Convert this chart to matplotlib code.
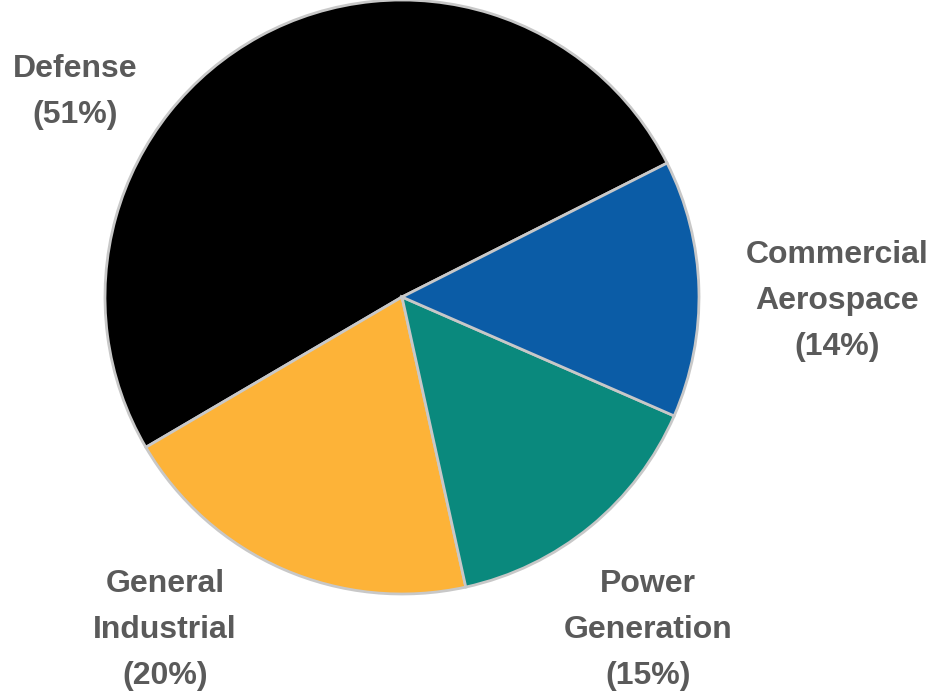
import matplotlib.pyplot as plt

# data
labels = ['Defense\n(51%)', 'General\nIndustrial\n(20%)', 'Power\nGeneration\n(15%)', 'Commercial\nAerospace\n(14%)']
shares = [51, 20, 15, 14]
colors = ['#000000', '#FDB338', '#0A897D', '#0B5CA6']

# label centres in pixels (x, y from top)
label_pos = [(75, 92), (165, 630), (648, 630), (837, 301)]

W, H = 933, 697
fig = plt.figure(figsize=(W / 100, H / 100), dpi=100)

cx, cy, r = 402, 297, 297
ax = fig.add_axes([(cx - r) / W, (H - cy - r) / H, 2 * r / W, 2 * r / H])
ax.pie(shares, colors=colors, startangle=26.8, counterclock=True,
       radius=1, wedgeprops=dict(edgecolor='#C8C8C8', linewidth=2))
ax.set_xlim(-1, 1)
ax.set_ylim(-1, 1)
ax.set_aspect('equal')
ax.axis('off')

for lab, (x, y) in zip(labels, label_pos):
    fig.text(x / W, 1 - y / H, lab, ha='center', va='center', multialignment='center',
             fontsize=23, fontweight='bold', color='#5A5A5A',
             family=['Liberation Sans', 'DejaVu Sans'],
             linespacing=1.7)

fig.savefig('out.png', dpi=100)
